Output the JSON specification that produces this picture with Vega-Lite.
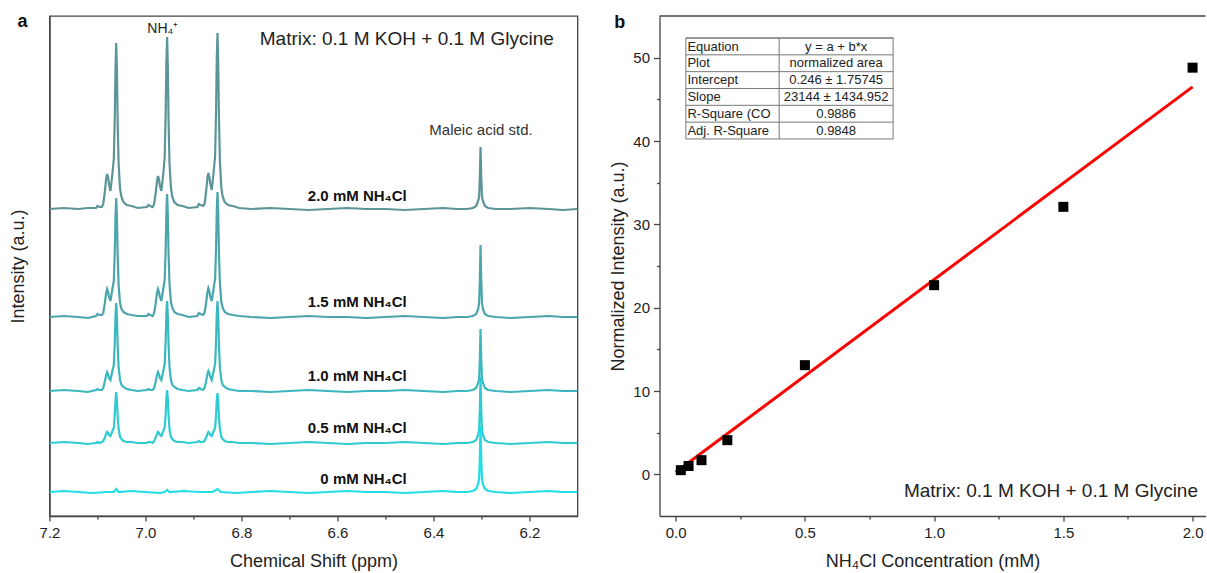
{
  "$schema": "https://vega.github.io/schema/vega-lite/v6.json",
  "background": "white",
  "padding": {"left": 8.5, "top": 12, "right": 0, "bottom": 0},
  "autosize": {"type": "pad"},
  "config": {
    "font": "Liberation Sans",
    "axis": {"labelFont": "Liberation Sans", "titleFont": "Liberation Sans", "labelFontSize": 15, "titleFontSize": 18, "titleFontWeight": "normal", "labelColor": "#222", "titleColor": "#222", "domainColor": "#444", "tickColor": "#444", "domainWidth": 1.3, "tickWidth": 1.3, "grid": false, "labelFlush": false, "labelOverlap": false, "labelBound": false},
    "text": {"font": "Liberation Sans", "color": "#222"}
  },
  "datasets": {
    "labels": [
      {"s": "2.0", "label": "2.0 mM NH₄Cl"},
      {"s": "1.5", "label": "1.5 mM NH₄Cl"},
      {"s": "1.0", "label": "1.0 mM NH₄Cl"},
      {"s": "0.5", "label": "0.5 mM NH₄Cl"},
      {"s": "0", "label": "0 mM NH₄Cl"}
    ],
    "points": [
      {"c": 0.02, "v": 0.5}, {"c": 0.05, "v": 1.0}, {"c": 0.1, "v": 1.7}, {"c": 0.2, "v": 4.1},
      {"c": 0.5, "v": 13.1}, {"c": 1.0, "v": 22.7}, {"c": 1.5, "v": 32.1}, {"c": 2.0, "v": 48.8}
    ],
    "fit": [{"c": 0, "v": 0.25}, {"c": 2.0, "v": 46.5}],
    "table": [
      {"row": 1, "param": "Equation", "value": "y = a + b*x"},
      {"row": 2, "param": "Plot", "value": "normalized area"},
      {"row": 3, "param": "Intercept", "value": "0.246 ± 1.75745"},
      {"row": 4, "param": "Slope", "value": "23144 ± 1434.952"},
      {"row": 5, "param": "R-Square (CO", "value": "0.9886"},
      {"row": 6, "param": "Adj. R-Square", "value": "0.9848"}
    ],
    "spectra": [
      {"s":"2.0","x":7.200,"y":307},{"s":"2.0","x":7.170,"y":308},{"s":"2.0","x":7.140,"y":307},{"s":"2.0","x":7.120,"y":308},
      {"s":"2.0","x":7.103,"y":308},{"s":"2.0","x":7.100,"y":310},{"s":"2.0","x":7.096,"y":309},{"s":"2.0","x":7.091,"y":309},{"s":"2.0","x":7.088,"y":312},{"s":"2.0","x":7.085,"y":323},{"s":"2.0","x":7.082,"y":337},{"s":"2.0","x":7.080,"y":342},{"s":"2.0","x":7.078,"y":339},{"s":"2.0","x":7.076,"y":332},{"s":"2.0","x":7.073,"y":325},{"s":"2.0","x":7.069,"y":342},{"s":"2.0","x":7.066,"y":357},{"s":"2.0","x":7.064,"y":398},{"s":"2.0","x":7.0625,"y":448},{"s":"2.0","x":7.061,"y":473},{"s":"2.0","x":7.0595,"y":445},{"s":"2.0","x":7.058,"y":393},{"s":"2.0","x":7.056,"y":352},{"s":"2.0","x":7.053,"y":327},{"s":"2.0","x":7.050,"y":319},{"s":"2.0","x":7.046,"y":314},{"s":"2.0","x":7.039,"y":311},{"s":"2.0","x":7.029,"y":310},{"s":"2.0","x":7.016,"y":308},
      {"s":"2.0","x":6.997,"y":309},{"s":"2.0","x":6.994,"y":311},{"s":"2.0","x":6.990,"y":310},{"s":"2.0","x":6.985,"y":309},{"s":"2.0","x":6.982,"y":312},{"s":"2.0","x":6.979,"y":322},{"s":"2.0","x":6.976,"y":335},{"s":"2.0","x":6.974,"y":340},{"s":"2.0","x":6.972,"y":337},{"s":"2.0","x":6.970,"y":330},{"s":"2.0","x":6.967,"y":325},{"s":"2.0","x":6.963,"y":342},{"s":"2.0","x":6.960,"y":359},{"s":"2.0","x":6.958,"y":402},{"s":"2.0","x":6.9565,"y":453},{"s":"2.0","x":6.955,"y":479},{"s":"2.0","x":6.9535,"y":450},{"s":"2.0","x":6.952,"y":396},{"s":"2.0","x":6.950,"y":353},{"s":"2.0","x":6.947,"y":328},{"s":"2.0","x":6.944,"y":319},{"s":"2.0","x":6.940,"y":314},{"s":"2.0","x":6.933,"y":311},{"s":"2.0","x":6.923,"y":310},{"s":"2.0","x":6.910,"y":308},
      {"s":"2.0","x":6.892,"y":309},{"s":"2.0","x":6.889,"y":312},{"s":"2.0","x":6.885,"y":311},{"s":"2.0","x":6.880,"y":310},{"s":"2.0","x":6.877,"y":312},{"s":"2.0","x":6.874,"y":323},{"s":"2.0","x":6.871,"y":338},{"s":"2.0","x":6.869,"y":343},{"s":"2.0","x":6.867,"y":339},{"s":"2.0","x":6.865,"y":332},{"s":"2.0","x":6.862,"y":326},{"s":"2.0","x":6.858,"y":344},{"s":"2.0","x":6.855,"y":360},{"s":"2.0","x":6.853,"y":404},{"s":"2.0","x":6.8515,"y":457},{"s":"2.0","x":6.850,"y":483},{"s":"2.0","x":6.8485,"y":453},{"s":"2.0","x":6.847,"y":399},{"s":"2.0","x":6.845,"y":355},{"s":"2.0","x":6.842,"y":328},{"s":"2.0","x":6.839,"y":319},{"s":"2.0","x":6.835,"y":314},{"s":"2.0","x":6.828,"y":311},{"s":"2.0","x":6.818,"y":310},{"s":"2.0","x":6.805,"y":308},
      {"s":"2.0","x":6.780,"y":307},{"s":"2.0","x":6.740,"y":308},{"s":"2.0","x":6.700,"y":307},{"s":"2.0","x":6.660,"y":306},{"s":"2.0","x":6.620,"y":307},{"s":"2.0","x":6.580,"y":308},{"s":"2.0","x":6.540,"y":307},{"s":"2.0","x":6.500,"y":307},{"s":"2.0","x":6.460,"y":306},{"s":"2.0","x":6.420,"y":307},{"s":"2.0","x":6.380,"y":308},{"s":"2.0","x":6.350,"y":307},{"s":"2.0","x":6.330,"y":307},
      {"s":"2.0","x":6.318,"y":308},{"s":"2.0","x":6.311,"y":310},{"s":"2.0","x":6.307,"y":315},{"s":"2.0","x":6.305,"y":319},{"s":"2.0","x":6.3035,"y":338},{"s":"2.0","x":6.302,"y":369},{"s":"2.0","x":6.3005,"y":338},{"s":"2.0","x":6.299,"y":319},{"s":"2.0","x":6.297,"y":315},{"s":"2.0","x":6.293,"y":310},{"s":"2.0","x":6.286,"y":308},
      {"s":"2.0","x":6.270,"y":307},{"s":"2.0","x":6.240,"y":307},{"s":"2.0","x":6.200,"y":308},{"s":"2.0","x":6.160,"y":307},{"s":"2.0","x":6.130,"y":306},{"s":"2.0","x":6.100,"y":307},

      {"s":"1.5","x":7.200,"y":199},{"s":"1.5","x":7.170,"y":200},{"s":"1.5","x":7.140,"y":199},{"s":"1.5","x":7.120,"y":198},
      {"s":"1.5","x":7.103,"y":200},{"s":"1.5","x":7.100,"y":202},{"s":"1.5","x":7.096,"y":201},{"s":"1.5","x":7.091,"y":201},{"s":"1.5","x":7.088,"y":203},{"s":"1.5","x":7.085,"y":212},{"s":"1.5","x":7.082,"y":223},{"s":"1.5","x":7.080,"y":227},{"s":"1.5","x":7.078,"y":224},{"s":"1.5","x":7.076,"y":219},{"s":"1.5","x":7.073,"y":215},{"s":"1.5","x":7.069,"y":227},{"s":"1.5","x":7.066,"y":235},{"s":"1.5","x":7.064,"y":264},{"s":"1.5","x":7.0625,"y":300},{"s":"1.5","x":7.061,"y":318},{"s":"1.5","x":7.0595,"y":298},{"s":"1.5","x":7.058,"y":261},{"s":"1.5","x":7.056,"y":231},{"s":"1.5","x":7.053,"y":213},{"s":"1.5","x":7.050,"y":207},{"s":"1.5","x":7.046,"y":204},{"s":"1.5","x":7.039,"y":202},{"s":"1.5","x":7.029,"y":201},{"s":"1.5","x":7.016,"y":200},
      {"s":"1.5","x":6.997,"y":200},{"s":"1.5","x":6.994,"y":202},{"s":"1.5","x":6.990,"y":201},{"s":"1.5","x":6.985,"y":200},{"s":"1.5","x":6.982,"y":203},{"s":"1.5","x":6.979,"y":212},{"s":"1.5","x":6.976,"y":223},{"s":"1.5","x":6.974,"y":227},{"s":"1.5","x":6.972,"y":224},{"s":"1.5","x":6.970,"y":219},{"s":"1.5","x":6.967,"y":215},{"s":"1.5","x":6.963,"y":227},{"s":"1.5","x":6.960,"y":236},{"s":"1.5","x":6.958,"y":267},{"s":"1.5","x":6.9565,"y":304},{"s":"1.5","x":6.955,"y":322},{"s":"1.5","x":6.9535,"y":301},{"s":"1.5","x":6.952,"y":263},{"s":"1.5","x":6.950,"y":232},{"s":"1.5","x":6.947,"y":214},{"s":"1.5","x":6.944,"y":208},{"s":"1.5","x":6.940,"y":204},{"s":"1.5","x":6.933,"y":202},{"s":"1.5","x":6.923,"y":201},{"s":"1.5","x":6.910,"y":199},
      {"s":"1.5","x":6.892,"y":200},{"s":"1.5","x":6.889,"y":203},{"s":"1.5","x":6.885,"y":202},{"s":"1.5","x":6.880,"y":201},{"s":"1.5","x":6.877,"y":203},{"s":"1.5","x":6.874,"y":212},{"s":"1.5","x":6.871,"y":224},{"s":"1.5","x":6.869,"y":228},{"s":"1.5","x":6.867,"y":225},{"s":"1.5","x":6.865,"y":219},{"s":"1.5","x":6.862,"y":215},{"s":"1.5","x":6.858,"y":228},{"s":"1.5","x":6.855,"y":237},{"s":"1.5","x":6.853,"y":268},{"s":"1.5","x":6.8515,"y":305},{"s":"1.5","x":6.850,"y":324},{"s":"1.5","x":6.8485,"y":303},{"s":"1.5","x":6.847,"y":264},{"s":"1.5","x":6.845,"y":233},{"s":"1.5","x":6.842,"y":214},{"s":"1.5","x":6.839,"y":208},{"s":"1.5","x":6.835,"y":204},{"s":"1.5","x":6.828,"y":202},{"s":"1.5","x":6.818,"y":201},{"s":"1.5","x":6.805,"y":200},
      {"s":"1.5","x":6.780,"y":199},{"s":"1.5","x":6.740,"y":198},{"s":"1.5","x":6.700,"y":199},{"s":"1.5","x":6.660,"y":200},{"s":"1.5","x":6.620,"y":199},{"s":"1.5","x":6.580,"y":199},{"s":"1.5","x":6.540,"y":198},{"s":"1.5","x":6.500,"y":199},{"s":"1.5","x":6.460,"y":200},{"s":"1.5","x":6.420,"y":199},{"s":"1.5","x":6.380,"y":198},{"s":"1.5","x":6.350,"y":199},{"s":"1.5","x":6.330,"y":199},
      {"s":"1.5","x":6.318,"y":200},{"s":"1.5","x":6.311,"y":202},{"s":"1.5","x":6.307,"y":207},{"s":"1.5","x":6.305,"y":213},{"s":"1.5","x":6.3035,"y":235},{"s":"1.5","x":6.302,"y":271},{"s":"1.5","x":6.3005,"y":235},{"s":"1.5","x":6.299,"y":213},{"s":"1.5","x":6.297,"y":207},{"s":"1.5","x":6.293,"y":202},{"s":"1.5","x":6.286,"y":200},
      {"s":"1.5","x":6.270,"y":199},{"s":"1.5","x":6.240,"y":198},{"s":"1.5","x":6.200,"y":199},{"s":"1.5","x":6.160,"y":200},{"s":"1.5","x":6.130,"y":199},{"s":"1.5","x":6.100,"y":199},

      {"s":"1.0","x":7.200,"y":125},{"s":"1.0","x":7.170,"y":126},{"s":"1.0","x":7.140,"y":125},{"s":"1.0","x":7.120,"y":124},
      {"s":"1.0","x":7.103,"y":126},{"s":"1.0","x":7.100,"y":127},{"s":"1.0","x":7.096,"y":126},{"s":"1.0","x":7.091,"y":126},{"s":"1.0","x":7.088,"y":128},{"s":"1.0","x":7.085,"y":134},{"s":"1.0","x":7.082,"y":141},{"s":"1.0","x":7.080,"y":144},{"s":"1.0","x":7.078,"y":142},{"s":"1.0","x":7.076,"y":138},{"s":"1.0","x":7.073,"y":136},{"s":"1.0","x":7.069,"y":145},{"s":"1.0","x":7.066,"y":151},{"s":"1.0","x":7.064,"y":173},{"s":"1.0","x":7.0625,"y":200},{"s":"1.0","x":7.061,"y":213},{"s":"1.0","x":7.0595,"y":198},{"s":"1.0","x":7.058,"y":171},{"s":"1.0","x":7.056,"y":149},{"s":"1.0","x":7.053,"y":136},{"s":"1.0","x":7.050,"y":131},{"s":"1.0","x":7.046,"y":129},{"s":"1.0","x":7.039,"y":127},{"s":"1.0","x":7.029,"y":126},{"s":"1.0","x":7.016,"y":125},
      {"s":"1.0","x":6.997,"y":126},{"s":"1.0","x":6.994,"y":127},{"s":"1.0","x":6.990,"y":126},{"s":"1.0","x":6.985,"y":126},{"s":"1.0","x":6.982,"y":128},{"s":"1.0","x":6.979,"y":134},{"s":"1.0","x":6.976,"y":141},{"s":"1.0","x":6.974,"y":144},{"s":"1.0","x":6.972,"y":142},{"s":"1.0","x":6.970,"y":138},{"s":"1.0","x":6.967,"y":136},{"s":"1.0","x":6.963,"y":145},{"s":"1.0","x":6.960,"y":152},{"s":"1.0","x":6.958,"y":175},{"s":"1.0","x":6.9565,"y":202},{"s":"1.0","x":6.955,"y":215},{"s":"1.0","x":6.9535,"y":200},{"s":"1.0","x":6.952,"y":172},{"s":"1.0","x":6.950,"y":149},{"s":"1.0","x":6.947,"y":136},{"s":"1.0","x":6.944,"y":131},{"s":"1.0","x":6.940,"y":129},{"s":"1.0","x":6.933,"y":127},{"s":"1.0","x":6.923,"y":126},{"s":"1.0","x":6.910,"y":125},
      {"s":"1.0","x":6.892,"y":126},{"s":"1.0","x":6.889,"y":128},{"s":"1.0","x":6.885,"y":127},{"s":"1.0","x":6.880,"y":126},{"s":"1.0","x":6.877,"y":128},{"s":"1.0","x":6.874,"y":134},{"s":"1.0","x":6.871,"y":142},{"s":"1.0","x":6.869,"y":145},{"s":"1.0","x":6.867,"y":143},{"s":"1.0","x":6.865,"y":139},{"s":"1.0","x":6.862,"y":136},{"s":"1.0","x":6.858,"y":145},{"s":"1.0","x":6.855,"y":152},{"s":"1.0","x":6.853,"y":175},{"s":"1.0","x":6.8515,"y":202},{"s":"1.0","x":6.850,"y":215},{"s":"1.0","x":6.8485,"y":200},{"s":"1.0","x":6.847,"y":172},{"s":"1.0","x":6.845,"y":149},{"s":"1.0","x":6.842,"y":136},{"s":"1.0","x":6.839,"y":131},{"s":"1.0","x":6.835,"y":129},{"s":"1.0","x":6.828,"y":127},{"s":"1.0","x":6.818,"y":126},{"s":"1.0","x":6.805,"y":125},
      {"s":"1.0","x":6.780,"y":125},{"s":"1.0","x":6.740,"y":124},{"s":"1.0","x":6.700,"y":125},{"s":"1.0","x":6.660,"y":126},{"s":"1.0","x":6.620,"y":125},{"s":"1.0","x":6.580,"y":124},{"s":"1.0","x":6.540,"y":125},{"s":"1.0","x":6.500,"y":125},{"s":"1.0","x":6.460,"y":126},{"s":"1.0","x":6.420,"y":125},{"s":"1.0","x":6.380,"y":124},{"s":"1.0","x":6.350,"y":125},{"s":"1.0","x":6.330,"y":125},
      {"s":"1.0","x":6.318,"y":126},{"s":"1.0","x":6.311,"y":128},{"s":"1.0","x":6.307,"y":133},{"s":"1.0","x":6.305,"y":137},{"s":"1.0","x":6.3035,"y":156},{"s":"1.0","x":6.302,"y":187},{"s":"1.0","x":6.3005,"y":156},{"s":"1.0","x":6.299,"y":137},{"s":"1.0","x":6.297,"y":133},{"s":"1.0","x":6.293,"y":128},{"s":"1.0","x":6.286,"y":126},
      {"s":"1.0","x":6.270,"y":125},{"s":"1.0","x":6.240,"y":124},{"s":"1.0","x":6.200,"y":125},{"s":"1.0","x":6.160,"y":126},{"s":"1.0","x":6.130,"y":125},{"s":"1.0","x":6.100,"y":125},

      {"s":"0.5","x":7.200,"y":73},{"s":"0.5","x":7.170,"y":74},{"s":"0.5","x":7.140,"y":73},{"s":"0.5","x":7.120,"y":72},
      {"s":"0.5","x":7.103,"y":73},{"s":"0.5","x":7.100,"y":74},{"s":"0.5","x":7.096,"y":73},{"s":"0.5","x":7.091,"y":74},{"s":"0.5","x":7.088,"y":75},{"s":"0.5","x":7.085,"y":78},{"s":"0.5","x":7.082,"y":82},{"s":"0.5","x":7.080,"y":84},{"s":"0.5","x":7.078,"y":83},{"s":"0.5","x":7.076,"y":81},{"s":"0.5","x":7.073,"y":80},{"s":"0.5","x":7.069,"y":85},{"s":"0.5","x":7.066,"y":88},{"s":"0.5","x":7.064,"y":101},{"s":"0.5","x":7.0625,"y":116},{"s":"0.5","x":7.061,"y":124},{"s":"0.5","x":7.0595,"y":115},{"s":"0.5","x":7.058,"y":100},{"s":"0.5","x":7.056,"y":87},{"s":"0.5","x":7.053,"y":79},{"s":"0.5","x":7.050,"y":77},{"s":"0.5","x":7.046,"y":75},{"s":"0.5","x":7.039,"y":74},{"s":"0.5","x":7.029,"y":74},{"s":"0.5","x":7.016,"y":73},
      {"s":"0.5","x":6.997,"y":73},{"s":"0.5","x":6.994,"y":74},{"s":"0.5","x":6.990,"y":74},{"s":"0.5","x":6.985,"y":73},{"s":"0.5","x":6.982,"y":75},{"s":"0.5","x":6.979,"y":78},{"s":"0.5","x":6.976,"y":82},{"s":"0.5","x":6.974,"y":84},{"s":"0.5","x":6.972,"y":83},{"s":"0.5","x":6.970,"y":81},{"s":"0.5","x":6.967,"y":80},{"s":"0.5","x":6.963,"y":85},{"s":"0.5","x":6.960,"y":89},{"s":"0.5","x":6.958,"y":102},{"s":"0.5","x":6.9565,"y":118},{"s":"0.5","x":6.955,"y":126},{"s":"0.5","x":6.9535,"y":117},{"s":"0.5","x":6.952,"y":101},{"s":"0.5","x":6.950,"y":87},{"s":"0.5","x":6.947,"y":79},{"s":"0.5","x":6.944,"y":77},{"s":"0.5","x":6.940,"y":75},{"s":"0.5","x":6.933,"y":74},{"s":"0.5","x":6.923,"y":74},{"s":"0.5","x":6.910,"y":73},
      {"s":"0.5","x":6.892,"y":74},{"s":"0.5","x":6.889,"y":75},{"s":"0.5","x":6.885,"y":74},{"s":"0.5","x":6.880,"y":74},{"s":"0.5","x":6.877,"y":75},{"s":"0.5","x":6.874,"y":78},{"s":"0.5","x":6.871,"y":82},{"s":"0.5","x":6.869,"y":84},{"s":"0.5","x":6.867,"y":83},{"s":"0.5","x":6.865,"y":81},{"s":"0.5","x":6.862,"y":80},{"s":"0.5","x":6.858,"y":85},{"s":"0.5","x":6.855,"y":88},{"s":"0.5","x":6.853,"y":101},{"s":"0.5","x":6.8515,"y":116},{"s":"0.5","x":6.850,"y":123},{"s":"0.5","x":6.8485,"y":115},{"s":"0.5","x":6.847,"y":99},{"s":"0.5","x":6.845,"y":87},{"s":"0.5","x":6.842,"y":79},{"s":"0.5","x":6.839,"y":77},{"s":"0.5","x":6.835,"y":75},{"s":"0.5","x":6.828,"y":74},{"s":"0.5","x":6.818,"y":74},{"s":"0.5","x":6.805,"y":73},
      {"s":"0.5","x":6.780,"y":73},{"s":"0.5","x":6.740,"y":72},{"s":"0.5","x":6.700,"y":73},{"s":"0.5","x":6.660,"y":74},{"s":"0.5","x":6.620,"y":73},{"s":"0.5","x":6.580,"y":72},{"s":"0.5","x":6.540,"y":73},{"s":"0.5","x":6.500,"y":73},{"s":"0.5","x":6.460,"y":74},{"s":"0.5","x":6.420,"y":73},{"s":"0.5","x":6.380,"y":72},{"s":"0.5","x":6.350,"y":73},{"s":"0.5","x":6.330,"y":73},
      {"s":"0.5","x":6.318,"y":74},{"s":"0.5","x":6.311,"y":76},{"s":"0.5","x":6.307,"y":81},{"s":"0.5","x":6.305,"y":86},{"s":"0.5","x":6.3035,"y":106},{"s":"0.5","x":6.302,"y":139},{"s":"0.5","x":6.3005,"y":106},{"s":"0.5","x":6.299,"y":86},{"s":"0.5","x":6.297,"y":81},{"s":"0.5","x":6.293,"y":76},{"s":"0.5","x":6.286,"y":74},
      {"s":"0.5","x":6.270,"y":73},{"s":"0.5","x":6.240,"y":72},{"s":"0.5","x":6.200,"y":73},{"s":"0.5","x":6.160,"y":74},{"s":"0.5","x":6.130,"y":73},{"s":"0.5","x":6.100,"y":73},

      {"s":"0","x":7.200,"y":24},{"s":"0","x":7.170,"y":25},{"s":"0","x":7.140,"y":24},{"s":"0","x":7.110,"y":23},{"s":"0","x":7.080,"y":24},{"s":"0","x":7.066,"y":24},{"s":"0","x":7.061,"y":27},{"s":"0","x":7.056,"y":24},{"s":"0","x":7.030,"y":25},{"s":"0","x":7.000,"y":24},{"s":"0","x":6.970,"y":23},{"s":"0","x":6.960,"y":24},{"s":"0","x":6.955,"y":26},{"s":"0","x":6.950,"y":24},{"s":"0","x":6.920,"y":25},{"s":"0","x":6.890,"y":24},{"s":"0","x":6.860,"y":24},{"s":"0","x":6.850,"y":27},{"s":"0","x":6.843,"y":24},{"s":"0","x":6.810,"y":23},{"s":"0","x":6.780,"y":24},{"s":"0","x":6.740,"y":25},{"s":"0","x":6.700,"y":24},{"s":"0","x":6.660,"y":23},{"s":"0","x":6.620,"y":24},{"s":"0","x":6.580,"y":25},{"s":"0","x":6.540,"y":24},{"s":"0","x":6.500,"y":24},{"s":"0","x":6.460,"y":23},{"s":"0","x":6.420,"y":24},{"s":"0","x":6.380,"y":25},{"s":"0","x":6.350,"y":24},{"s":"0","x":6.330,"y":24},
      {"s":"0","x":6.318,"y":25},{"s":"0","x":6.311,"y":27},{"s":"0","x":6.307,"y":32},{"s":"0","x":6.305,"y":37},{"s":"0","x":6.3035,"y":57},{"s":"0","x":6.302,"y":90},{"s":"0","x":6.3005,"y":57},{"s":"0","x":6.299,"y":37},{"s":"0","x":6.297,"y":32},{"s":"0","x":6.293,"y":27},{"s":"0","x":6.286,"y":25},
      {"s":"0","x":6.270,"y":24},{"s":"0","x":6.240,"y":23},{"s":"0","x":6.200,"y":24},{"s":"0","x":6.160,"y":25},{"s":"0","x":6.130,"y":24},{"s":"0","x":6.100,"y":24}
    ]
  },
  "bounds": "flush",
  "spacing": 82,
  "hconcat": [
    {
      "width": 528,
      "height": 500,
      "view": {"stroke": "#444", "strokeWidth": 1.3},
      "layer": [
        {
          "data": {"name": "spectra"},
          "mark": {"type": "line", "strokeWidth": 2.2, "clip": true},
          "encoding": {
            "x": {
              "field": "x", "type": "quantitative",
              "scale": {"domain": [6.1, 7.2], "reverse": true, "nice": false, "zero": false},
              "axis": {
                "title": "Chemical Shift (ppm)",
                "values": [7.2, 7.1, 7.0, 6.9, 6.8, 6.7, 6.6, 6.5, 6.4, 6.3, 6.2],
                "labelExpr": "abs(datum.value*5 - round(datum.value*5)) < 0.01 ? format(datum.value, '.1f') : ''",
                "tickSize": {"condition": {"test": "abs(datum.value*5 - round(datum.value*5)) < 0.01", "value": 5}, "value": 3},
                "labelPadding": 4,
                "titlePadding": 12
              }
            },
            "y": {
              "field": "y", "type": "quantitative",
              "scale": {"domain": [0, 500], "nice": false, "zero": false},
              "axis": {"title": "Intensity (a.u.)", "ticks": false, "labels": false, "titlePadding": 22}
            },
            "color": {
              "field": "s", "type": "nominal",
              "scale": {"domain": ["0", "0.5", "1.0", "1.5", "2.0"], "range": ["#22dde6", "#2fcbd3", "#3bb8bf", "#4ba5aa", "#5c9597"]},
              "legend": null
            }
          }
        },
        {
          "data": {"name": "spectra"},
          "transform": [
            {"filter": "datum.x == 6.46"},
            {"lookup": "s", "from": {"data": {"name": "labels"}, "key": "s", "fields": ["label"]}}
          ],
          "mark": {"type": "text", "align": "right", "baseline": "middle", "dx": 2, "dy": -14.5, "fontSize": 15, "fontWeight": "bold", "color": "#111"},
          "encoding": {
            "x": {"field": "x", "type": "quantitative"},
            "y": {"field": "y", "type": "quantitative"},
            "text": {"field": "label"}
          }
        },
        {
          "data": {"values": [{}]},
          "mark": {"type": "text", "text": "a", "fontSize": 18, "fontWeight": "bold", "align": "center", "baseline": "middle", "color": "#111"},
          "encoding": {"x": {"datum": 7.256}, "y": {"datum": 494}}
        },
        {
          "data": {"values": [{}]},
          "mark": {"type": "text", "text": "NH₄⁺", "fontSize": 14, "align": "center", "baseline": "middle"},
          "encoding": {"x": {"datum": 6.964}, "y": {"datum": 487}}
        },
        {
          "data": {"values": [{}]},
          "mark": {"type": "text", "text": "Matrix: 0.1 M KOH + 0.1 M Glycine", "fontSize": 19, "align": "left", "baseline": "middle"},
          "encoding": {"x": {"datum": 6.762}, "y": {"datum": 477}}
        },
        {
          "data": {"values": [{}]},
          "mark": {"type": "text", "text": "Maleic acid std.", "fontSize": 15, "align": "center", "baseline": "middle", "color": "#333"},
          "encoding": {"x": {"datum": 6.301}, "y": {"datum": 386}}
        }
      ]
    },
    {
      "width": 546,
      "height": 500,
      "view": {"stroke": null},
      "resolve": {"scale": {"y": "independent"}},
      "layer": [
        {
          "layer": [
            {
              "data": {"values": [{}]},
              "mark": {"type": "rule", "color": "#444", "strokeWidth": 1.3},
              "encoding": {"y": {"datum": 55}}
            },
            {
              "data": {"name": "fit"},
              "mark": {"type": "line", "color": "#ff0000", "strokeWidth": 3},
              "encoding": {
                "x": {
                  "field": "c", "type": "quantitative",
                  "scale": {"domain": [-0.0625, 2.05], "nice": false, "zero": false},
                  "axis": {
                    "title": "NH₄Cl Concentration (mM)",
                    "values": [0, 0.25, 0.5, 0.75, 1.0, 1.25, 1.5, 1.75, 2.0],
                    "labelExpr": "datum.value % 0.5 == 0 ? format(datum.value, '.1f') : ''",
                    "tickSize": {"condition": {"test": "datum.value % 0.5 == 0", "value": 5}, "value": 3},
                    "labelPadding": 4,
                    "titlePadding": 12
                  }
                },
                "y": {
                  "field": "v", "type": "quantitative",
                  "scale": {"domain": [-5, 55], "nice": false, "zero": false},
                  "axis": {
                    "title": "Normalized Intensity (a.u.)",
                    "values": [0, 5, 10, 15, 20, 25, 30, 35, 40, 45, 50],
                    "labelExpr": "datum.value % 10 == 0 ? format(datum.value, 'd') : ''",
                    "tickSize": {"condition": {"test": "datum.value % 10 == 0", "value": 6}, "value": 3},
                    "labelPadding": 4,
                    "titlePadding": 5
                  }
                }
              }
            },
            {
              "data": {"name": "points"},
              "mark": {"type": "point", "shape": "square", "filled": true, "size": 100, "color": "#000", "opacity": 1},
              "encoding": {
                "x": {"field": "c", "type": "quantitative"},
                "y": {"field": "v", "type": "quantitative"}
              }
            },
            {
              "data": {"values": [{}]},
              "mark": {"type": "text", "text": "Matrix: 0.1 M KOH + 0.1 M Glycine", "fontSize": 19, "align": "right", "baseline": "middle"},
              "encoding": {"x": {"datum": 2.021}, "y": {"datum": -2}}
            },
            {
              "data": {"values": [{}]},
              "mark": {"type": "text", "text": "b", "fontSize": 18, "fontWeight": "bold", "align": "center", "baseline": "middle", "color": "#111"},
              "encoding": {"x": {"datum": -0.216}, "y": {"datum": 54.2}}
            }
          ]
        },
        {
          "layer": [
            {
              "data": {"values": [{}]},
              "mark": {"type": "rect", "fill": "white", "stroke": "#777", "strokeWidth": 1},
              "encoding": {
                "x": {"datum": 0.0395}, "x2": {"datum": 0.8414},
                "y": {"datum": 1, "type": "quantitative", "scale": {"domain": [-0.307, 29.4], "reverse": true, "nice": false, "zero": false}, "axis": null},
                "y2": {"datum": 7}
              }
            },
            {
              "data": {"name": "table"},
              "mark": {"type": "rule", "color": "#777", "strokeWidth": 1},
              "encoding": {
                "x": {"datum": 0.0395}, "x2": {"datum": 0.8414},
                "y": {"field": "row", "type": "quantitative"}
              }
            },
            {
              "data": {"values": [{}]},
              "mark": {"type": "rule", "color": "#777", "strokeWidth": 1},
              "encoding": {
                "x": {"datum": 0.4004},
                "y": {"datum": 1, "type": "quantitative"}, "y2": {"datum": 7}
              }
            },
            {
              "data": {"name": "table"},
              "mark": {"type": "text", "align": "left", "baseline": "middle", "dy": 8.6, "fontSize": 13, "color": "#222"},
              "encoding": {
                "x": {"datum": 0.0456},
                "y": {"field": "row", "type": "quantitative"},
                "text": {"field": "param"}
              }
            },
            {
              "data": {"name": "table"},
              "mark": {"type": "text", "align": "center", "baseline": "middle", "dy": 8.6, "fontSize": 13, "color": "#222"},
              "encoding": {
                "x": {"datum": 0.621},
                "y": {"field": "row", "type": "quantitative"},
                "text": {"field": "value"}
              }
            }
          ]
        }
      ]
    }
  ]
}
